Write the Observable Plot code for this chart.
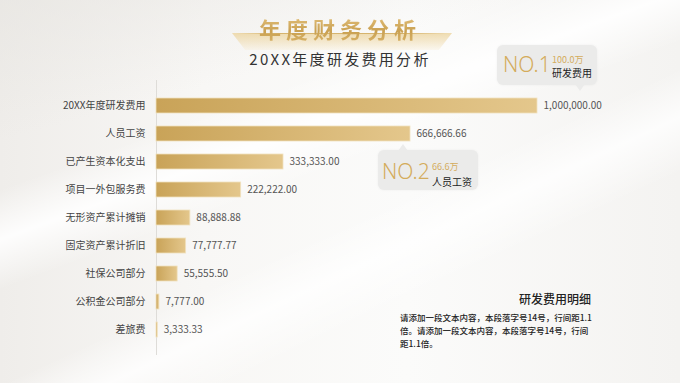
<!DOCTYPE html>
<html><head><meta charset="utf-8">
<script src="https://cdn.jsdelivr.net/npm/d3@7"></script>
<script src="https://cdn.jsdelivr.net/npm/@observablehq/plot@0.6"></script>
<style>
html,body{margin:0;padding:0;}
body{width:680px;height:383px;overflow:hidden;font-family:"Noto Sans CJK SC","Noto Sans",sans-serif;
background:
 linear-gradient(160deg, rgba(255,255,255,0) 30%, rgba(255,255,255,0.9) 38%, rgba(255,255,255,0) 46%),
 linear-gradient(155deg, rgba(255,255,255,0) 55%, rgba(255,255,255,0.8) 62%, rgba(255,255,255,0) 70%),
 linear-gradient(165deg, rgba(230,228,224,0.6) 0%, rgba(255,255,255,0) 25%),
 linear-gradient(90deg, #efedea 0%, #f8f7f5 30%, #fbfbfa 60%, #f4f3f1 100%);}
#wrap{position:relative;width:680px;height:383px;}
#chart{position:absolute;left:0;top:0;}
.abs{position:absolute;white-space:nowrap;}
#title{left:0;width:680px;top:12px;text-align:center;font-size:22px;font-weight:bold;letter-spacing:5px;
 background:linear-gradient(180deg,#e8c784 0%,#c9a051 60%,#d9b46a 100%);-webkit-background-clip:text;background-clip:text;color:transparent;}
#deco{left:232px;top:33px;width:220px;height:17px;
 background:linear-gradient(180deg,rgba(236,212,158,0.8) 0%,rgba(248,236,210,0.3) 100%);
 clip-path:polygon(0 0,100% 0,94% 100%,6% 100%);}
#decoline{left:236px;top:33px;width:212px;height:1px;background:linear-gradient(90deg,rgba(214,180,110,0),#d6b46e 20%,#d6b46e 80%,rgba(214,180,110,0));}
#subtitle{left:0;width:680px;top:48px;text-align:center;font-size:15px;letter-spacing:2.3px;color:#333;}
.callout{position:absolute;background:#ebebea;border-radius:6px;box-shadow:0 0 3px rgba(0,0,0,0.05);}
.no{position:absolute;font-family:"Noto Sans","Open Sans",sans-serif;font-size:21px;color:#d4ac5c;font-weight:300;}
.amt{position:absolute;font-size:9px;color:#d4ac5c;}
.nm{position:absolute;font-size:10px;color:#222;}
#dtitle{left:500px;width:91px;top:290px;text-align:right;font-size:12px;color:#222;font-weight:500;}
#dtext{left:400px;top:311px;font-size:8.5px;line-height:13px;color:#222;font-weight:500;}
</style></head>
<body><div id="wrap">
<div class="abs" id="deco"></div>
<div class="abs" id="decoline"></div>
<div class="abs" id="title">年度财务分析</div>
<div class="abs" id="subtitle">20XX年度研发费用分析</div>
<div id="chart"></div>
<div class="callout" style="left:497px;top:45px;width:100px;height:40px;"></div>
<div class="abs" style="left:575px;top:84px;width:0;height:0;border-left:5px solid transparent;border-right:5px solid transparent;border-top:7px solid #ebebea;"></div>
<div class="no" style="left:503px;top:50px;">NO.1</div>
<div class="amt" style="left:552px;top:53px;">100.0万</div>
<div class="nm" style="left:552px;top:65px;">研发费用</div>
<div class="callout" style="left:378px;top:150px;width:100px;height:40px;"></div>
<div class="abs" style="left:398px;top:144px;width:0;height:0;border-left:5px solid transparent;border-right:5px solid transparent;border-bottom:7px solid #ebebea;"></div>
<div class="no" style="left:382px;top:157px;">NO.2</div>
<div class="amt" style="left:432px;top:160px;">66.6万</div>
<div class="nm" style="left:432px;top:174px;">人员工资</div>
<div class="abs" id="dtitle">研发费用明细</div>
<div class="abs" id="dtext">请添加一段文本内容，本段落字号14号，行间距1.1<br>倍。请添加一段文本内容，本段落字号14号，行间<br>距1.1倍。</div>
</div>
<script>
const categories = ["20XX年度研发费用","人员工资","已产生资本化支出","项目一外包服务费","无形资产累计摊销","固定资产累计折旧","社保公司部分","公积金公司部分","差旅费"];
const values = [1000000, 666666.66, 333333.00, 222222.00, 88888.88, 77777.77, 55555.50, 7777.00, 3333.33];
const data = categories.map((c, i) => ({category: c, value: values[i]}));
const fmt = d3.format(",.2f");

const chart = Plot.plot({
  width: 680, height: 383,
  marginLeft: 156, marginRight: 143, marginTop: 80, marginBottom: 28,
  style: {background: "transparent", fontFamily: "'Noto Sans CJK SC', sans-serif", fontSize: "10px"},
  x: {domain: [0, 1000000], axis: null},
  y: {domain: categories, paddingInner: 0.46, paddingOuter: 0.5, label: null},
  marks: [
    Plot.ruleX([0], {stroke: "#dedcd8", strokeWidth: 1}),
    Plot.barX(data, {x: "value", y: "category", fill: "url(#goldGrad)", stroke: "#f1e2bf", strokeWidth: 0.8}),
    Plot.text(data, {x: "value", y: "category", text: d => fmt(d.value), dx: 6, textAnchor: "start", fill: "#555", fontSize: 10}),
    Plot.axisY({tickSize: 0, tickPadding: 11, fill: "#444", fontSize: 10, label: null})
  ]
});
const svg = d3.select(chart);
const defs = svg.insert("defs", ":first-child");
const g = defs.append("linearGradient").attr("id", "goldGrad").attr("x1", "0").attr("x2", "1").attr("y1", "0").attr("y2", "0");
g.append("stop").attr("offset", "0%").attr("stop-color", "#c9a358");
g.append("stop").attr("offset", "100%").attr("stop-color", "#e4c78c");
document.getElementById("chart").appendChild(chart);
</script>
</body></html>
